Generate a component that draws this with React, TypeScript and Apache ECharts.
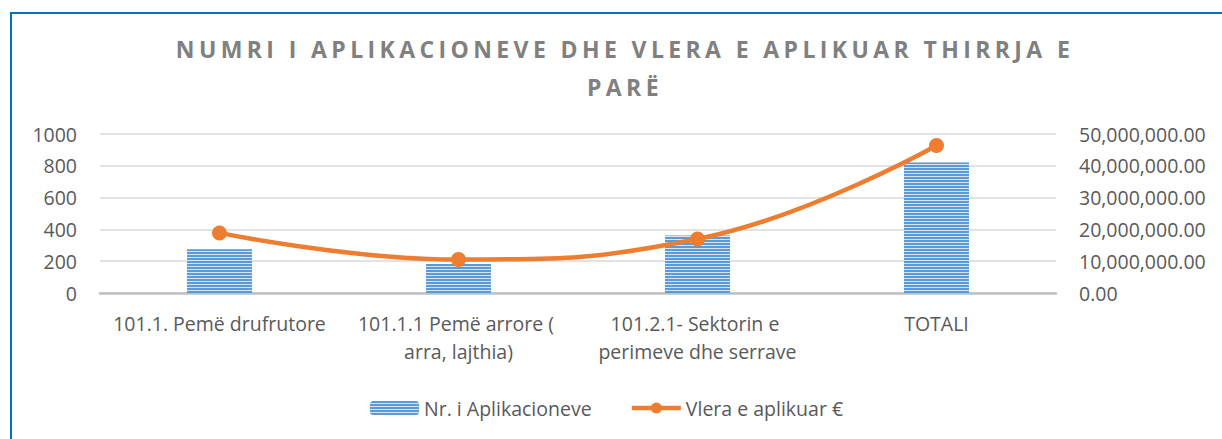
import React, { useEffect, useRef } from 'react';
import * as echarts from 'echarts';

const titleLines = ['NUMRI I APLIKACIONEVE DHE VLERA E APLIKUAR THIRRJA E', 'PARË'];
const categories = [
  '101.1. Pemë drufrutore',
  '101.1.1 Pemë arrore ( arra, lajthia)',
  '101.2.1- Sektorin e perimeve dhe serrave',
  'TOTALI',
];
const barName = 'Nr. i Aplikacioneve';
const lineName = 'Vlera e aplikuar €';
const applications = [275, 183, 362, 820];
const appliedValue = [18900000, 10500000, 17000000, 46400000];
const leftMin = 0;
const leftMax = 1000;
const leftStep = 200;
const rightMin = 0;
const rightMax = 50000000;
const rightStep = 10000000;

const FONT = '"Open Sans", Lato, sans-serif';
const TEXT_COLOR = '#595959';
const FS = 19.5;

export default function App() {
  const ref = useRef<HTMLDivElement>(null);

  useEffect(() => {
    if (!ref.current) return;
    document.body.style.margin = '0';
    const chart = echarts.init(ref.current, undefined, { renderer: 'svg' });
    chart.setOption({
      animation: false,
      backgroundColor: '#ffffff',
      textStyle: { fontFamily: FONT },
      graphic: [
        {
          type: 'rect',
          shape: { x: 11, y: 13, width: 1400, height: 600 },
          style: { fill: 'none', stroke: '#0070c0', lineWidth: 2 },
          silent: true,
        },
        {
          type: 'text',
          id: 'title',
          x: 625,
          y: 30,
          style: {
            text: titleLines.join('\n'),
            fill: '#808080',
            font: `bold 23px ${FONT}`,
            textAlign: 'center',
            textVerticalAlign: 'top',
            lineHeight: 38,
          },
        },
      ],
      grid: { left: 100, right: 166, top: 134, bottom: 146, containLabel: false },
      legend: {
        left: 370,
        top: 398,
        padding: 0,
        itemWidth: 49,
        itemHeight: 14,
        itemGap: 38,
        lineStyle: { width: 4.5 },
        textStyle: { fontSize: FS, color: TEXT_COLOR, fontFamily: FONT },
        data: [barName, lineName],
      },
      xAxis: {
        type: 'category',
        data: categories,
        axisLine: { lineStyle: { color: '#bfbfbf', width: 2.5 } },
        axisTick: { show: false },
        axisLabel: {
          interval: 0,
          color: TEXT_COLOR,
          fontSize: FS,
          fontFamily: FONT,
          margin: 16,
          width: 234,
          overflow: 'break',
          lineHeight: 28,
        },
      },
      yAxis: [
        {
          type: 'value',
          min: leftMin,
          max: leftMax,
          interval: leftStep,
          axisLine: { show: false },
          axisTick: { show: false },
          splitLine: { lineStyle: { color: '#d9d9d9', width: 1.5 } },
          axisLabel: {
            color: TEXT_COLOR,
            fontSize: FS,
            fontFamily: FONT,
            margin: 23,
            formatter: (v: number) => String(v),
          },
        },
        {
          type: 'value',
          min: rightMin,
          max: rightMax,
          interval: rightStep,
          axisLine: { show: false },
          axisTick: { show: false },
          splitLine: { show: false },
          axisLabel: {
            color: TEXT_COLOR,
            fontSize: FS,
            fontFamily: FONT,
            margin: 23,
            formatter: (v: number) =>
              v.toLocaleString('en-US', { minimumFractionDigits: 2, maximumFractionDigits: 2 }),
          },
        },
      ],
      series: [
        {
          name: barName,
          type: 'bar',
          data: applications,
          barWidth: 65,
          itemStyle: {
            color: '#d6e4f3',
            decal: {
              symbol: 'rect',
              symbolSize: 1,
              dashArrayX: [1, 0],
              dashArrayY: [2, 1],
              rotation: 0,
              color: '#5b9bd5',
            },
          },
        },
        {
          name: lineName,
          type: 'line',
          yAxisIndex: 1,
          data: appliedValue,
          smooth: 0.45,
          symbol: 'circle',
          symbolSize: 15,
          lineStyle: { color: '#ed7d31', width: 4.5 },
          itemStyle: { color: '#ed7d31' },
          z: 5,
        },
      ],
    });

    // Excel-style letter spacing for the title
    const svg = ref.current.querySelector('svg');
    if (svg) {
      const texts = Array.from(svg.querySelectorAll('text')) as SVGTextElement[];
      const targetWidth = 894;
      let ls = 0;
      texts.forEach((t) => {
        if (t.textContent === titleLines[0]) {
          const len = t.getComputedTextLength();
          ls = (targetWidth - len) / (titleLines[0].length - 1);
        }
      });
      texts.forEach((t) => {
        if (t.textContent === titleLines[0] || t.textContent === titleLines[1]) {
          t.setAttribute('letter-spacing', String(ls));
        }
      });
    }

    return () => chart.dispose();
  }, []);

  return (
    <div
      ref={ref}
      style={{ position: 'absolute', left: 0, top: 0, width: 1222, height: 439 }}
    />
  );
}
